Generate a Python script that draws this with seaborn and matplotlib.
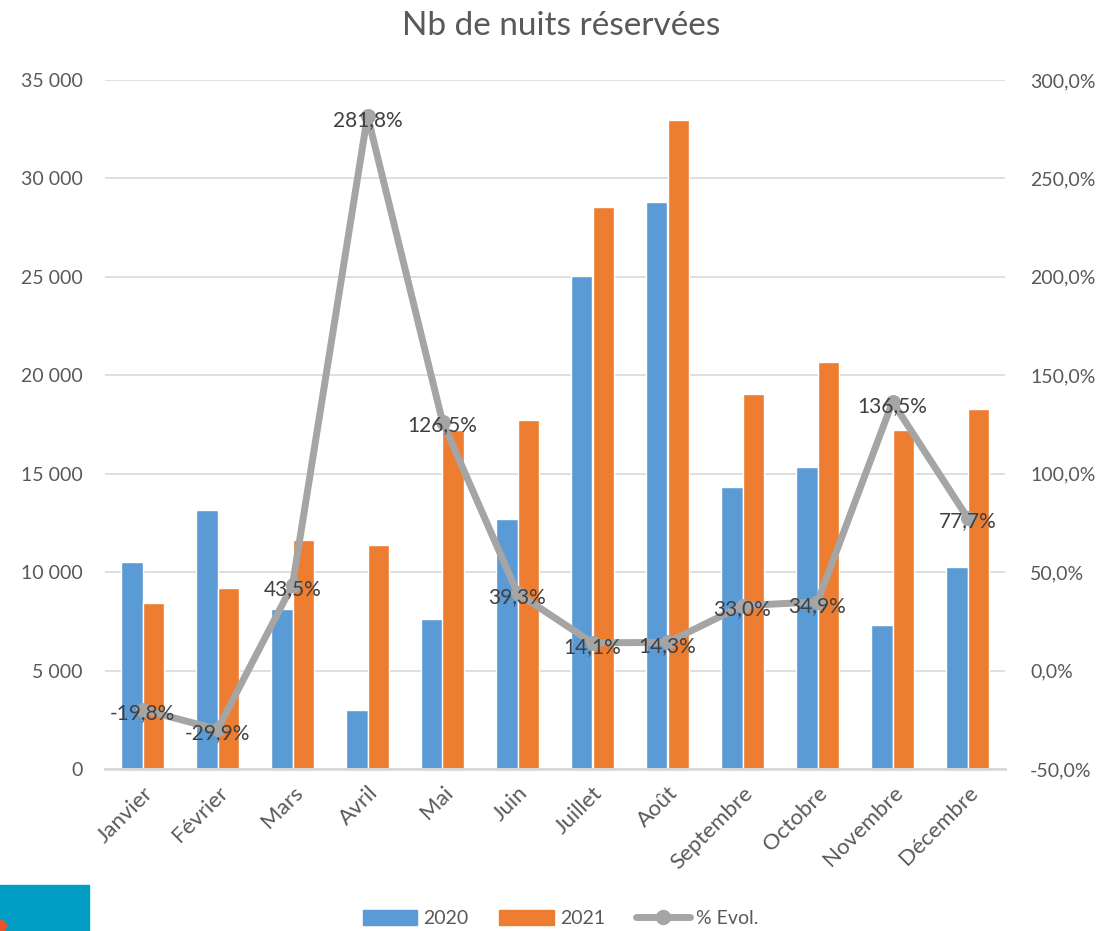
import numpy as np
import pandas as pd
import matplotlib.pyplot as plt
import matplotlib.patches as mpatches
from matplotlib.lines import Line2D
import seaborn as sns

# ------------ data ------------
mois = ['Janvier', 'Février', 'Mars', 'Avril', 'Mai', 'Juin', 'Juillet',
        'Août', 'Septembre', 'Octobre', 'Novembre', 'Décembre']
nuits_2020 = [10520, 13160, 8130, 3000, 7620, 12700, 25050, 28810, 14330, 15340, 7320, 10260]
nuits_2021 = [8440, 9200, 11640, 11380, 17230, 17730, 28560, 32980, 19060, 20680, 17230, 18290]
evol = [-19.8, -29.9, 43.5, 281.8, 126.5, 39.3, 14.1, 14.3, 33.0, 34.9, 136.5, 77.7]

df = pd.DataFrame({'mois': mois * 2,
                   'annee': ['2020'] * 12 + ['2021'] * 12,
                   'nuits': nuits_2020 + nuits_2021})

blue = '#5B9BD5'
orange = '#ED7D31'
grey = '#A5A5A5'
txt = '#595959'

sns.set_style('white')
plt.rcParams['font.family'] = ['Lato', 'DejaVu Sans']

fig, ax = plt.subplots(figsize=(11.06, 9.31), dpi=100)
fig.subplots_adjust(left=105/1106, right=1005/1106, top=1-80/931, bottom=1-769/931)

# ------------ bars ------------
sns.barplot(data=df, x='mois', y='nuits', hue='annee', order=mois,
            palette=[blue, orange], saturation=1, width=0.58, ax=ax, legend=False)
ax.set_ylim(0, 35000)
ax.set_xlim(-0.5, 11.5)
ax.set_yticks(np.arange(0, 35001, 5000))
ax.set_yticklabels([f'{v:,}'.replace(',', ' ') for v in range(0, 35001, 5000)])
ax.grid(axis='y', color='#D9D9D9', linewidth=1.2)
ax.set_axisbelow(True)
ax.set_xlabel('')
ax.set_ylabel('')
for s in ['top', 'right', 'left']:
    ax.spines[s].set_visible(False)
ax.spines['bottom'].set_color('#D9D9D9')
ax.spines['bottom'].set_linewidth(2)
ax.tick_params(axis='y', length=0, colors=txt, labelsize=14, pad=16)
ax.tick_params(axis='x', length=0, colors=txt, labelsize=16, pad=10)
plt.setp(ax.get_xticklabels(), rotation=45, ha='right', rotation_mode='anchor')

# ------------ % evolution line ------------
ax2 = ax.twinx()
xpos = np.arange(len(mois))
sns.lineplot(x=xpos, y=evol, ax=ax2, color=grey, linewidth=5,
             marker='o', markersize=10, markeredgecolor=grey)
ax2.set_ylim(-50, 300)
ax2.set_xlim(-0.5, 11.5)
ax2.set_yticks(np.arange(-50, 301, 50))
ax2.set_yticklabels([f'{v:.1f}%'.replace('.', ',') for v in range(-50, 301, 50)])
ax2.tick_params(axis='y', length=0, colors=txt, labelsize=14, pad=18)
for s in ax2.spines.values():
    s.set_visible(False)
ax2.grid(False)

for x, v in zip(xpos, evol):
    ax2.text(x, v - 2, f'{v:.1f}%'.replace('.', ','), ha='center', va='center',
             fontsize=15, color='#404040')

# ------------ title & legend ------------
fig.text(0.507, 0.972, 'Nb de nuits réservées', ha='center', va='center',
         fontsize=24, color=txt)

handles = [mpatches.Patch(color=blue, label='2020'),
           mpatches.Patch(color=orange, label='2021'),
           Line2D([0], [0], color=grey, linewidth=5, marker='o', markersize=10,
                  label='% Evol.')]
leg = fig.legend(handles=handles, loc='center', bbox_to_anchor=(0.507, 0.013),
                 ncol=3, frameon=False, fontsize=14, handlelength=2.8,
                 handleheight=0.8, columnspacing=1.6, handletextpad=0.3)
for t in leg.get_texts():
    t.set_color(txt)

# small logo fragment at bottom-left
fig.patches.append(mpatches.Rectangle((0, 0), 89/1106, 46/931, transform=fig.transFigure,
                                      color='#009DC4', zorder=0))
fig.patches.append(mpatches.Circle((0, 5/931), 0.006, transform=fig.transFigure,
                                   color='#E8542C', zorder=1))

plt.savefig('out.png', dpi=100)
